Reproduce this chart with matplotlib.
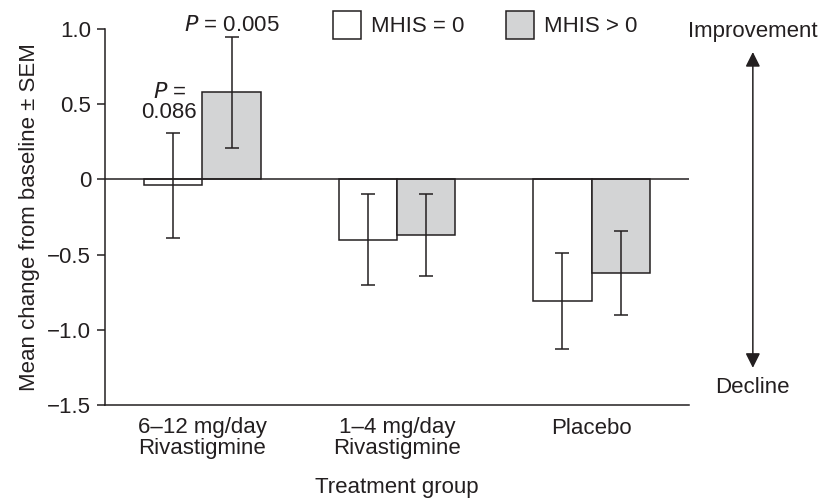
import matplotlib
matplotlib.use("Agg")
import matplotlib.pyplot as plt
from matplotlib.patches import Patch
import numpy as np

plt.rcParams['font.family'] = ['Liberation Sans', 'DejaVu Sans']
plt.rcParams['text.color'] = '#231f20'
plt.rcParams['axes.labelcolor'] = '#231f20'
plt.rcParams['xtick.color'] = '#231f20'
plt.rcParams['ytick.color'] = '#231f20'

groups = ["6\u201312 mg/day\nRivastigmine", "1\u20134 mg/day\nRivastigmine", "Placebo"]
series_names = ["MHIS = 0", "MHIS > 0"]
mhis0_mean = [-0.04, -0.40, -0.81]
mhis0_sem = [0.35, 0.30, 0.32]
mhis1_mean = [0.58, -0.37, -0.62]
mhis1_sem = [0.37, 0.27, 0.28]
p_labels = ["$P$ =\n0.086", "$P$ = 0.005"]
yticks = [1.0, 0.5, 0, -0.5, -1.0, -1.5]
ytick_labels = ["1.0", "0.5", "0", "\u22120.5", "\u22121.0", "\u22121.5"]

FS = 16
INK = '#231f20'
GRAY = '#d3d4d5'

fig = plt.figure(figsize=(8.29, 4.99), dpi=100)
ax = fig.add_axes([105/829, 1-405/499, (689-105)/829, (405-29)/499])

x = np.arange(len(groups))
w = 0.30
err_kw = dict(ecolor=INK, elinewidth=1.1, capthick=1.1)
ax.bar(x - w/2, mhis0_mean, w, yerr=mhis0_sem, capsize=4.8, color='white',
       edgecolor=INK, linewidth=1.1, error_kw=err_kw, zorder=2)
ax.bar(x + w/2, mhis1_mean, w, yerr=mhis1_sem, capsize=4.8, color=GRAY,
       edgecolor=INK, linewidth=1.1, error_kw=err_kw, zorder=2)
ax.axhline(0, color=INK, linewidth=1.1, zorder=3)

ax.set_xlim(-0.5, 2.5)
ax.set_ylim(-1.5, 1.0)
ax.set_yticks(yticks)
ax.set_yticklabels(ytick_labels, fontsize=FS)
ax.set_xticks(x)
ax.set_xticklabels(groups, fontsize=FS, linespacing=0.95)
ax.tick_params(axis='x', length=0, pad=9)
ax.tick_params(axis='y', length=6, width=1.1, direction='out', pad=4)
for s in ['top', 'right']:
    ax.spines[s].set_visible(False)
for s in ['left', 'bottom']:
    ax.spines[s].set_linewidth(1.1)
    ax.spines[s].set_color(INK)

ax.set_ylabel("Mean change from baseline \u00b1 SEM", fontsize=FS, labelpad=5)
ax.set_xlabel("Treatment group", fontsize=FS, labelpad=13)

# P-value annotations
ax.text(x[0] - 0.17, 0.375, p_labels[0], ha='center', va='bottom', fontsize=FS,
        linespacing=0.95)
ax.text(x[0] + w/2, 0.955, p_labels[1], ha='center', va='bottom', fontsize=FS)

# Legend
handles = [Patch(facecolor='white', edgecolor=INK, linewidth=1.1),
           Patch(facecolor=GRAY, edgecolor=INK, linewidth=1.1)]
ax.legend(handles, series_names, ncol=2, frameon=False, fontsize=FS,
          handlelength=1.25, handleheight=1.5, handletextpad=0.45,
          columnspacing=1.9, loc='center left',
          bbox_to_anchor=(333/829, 1-25/499), bbox_transform=fig.transFigure,
          borderpad=0, borderaxespad=0)

# Improvement / Decline arrow
ax.annotate('', xy=(2.828, 0.847), xytext=(2.828, -1.253),
            arrowprops=dict(arrowstyle='<|-|>', color=INK, lw=1.1,
                            mutation_scale=22, shrinkA=0, shrinkB=0),
            annotation_clip=False)
ax.text(2.828, 0.985, "Improvement", ha='center', va='center', fontsize=FS,
        clip_on=False)
ax.text(2.828, -1.385, "Decline", ha='center', va='center', fontsize=FS,
        clip_on=False)

fig.savefig("out.png", dpi=100)
